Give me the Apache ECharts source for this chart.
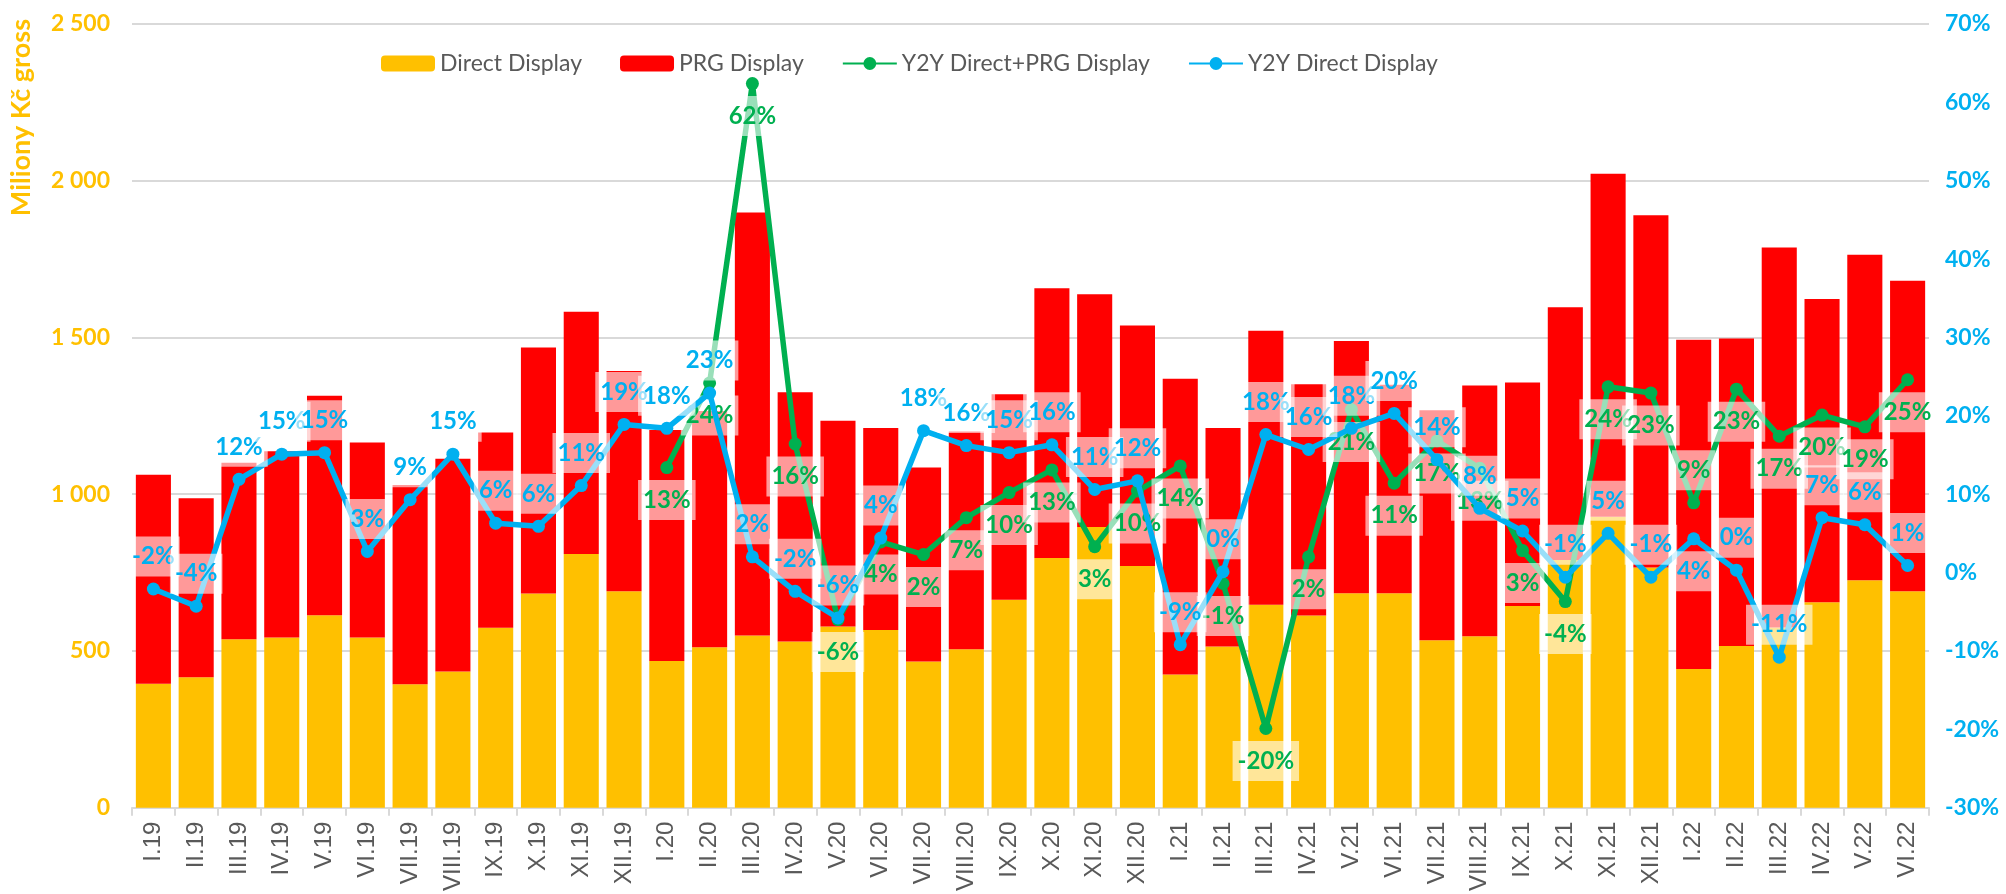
<!DOCTYPE html>
<html>
<head>
<meta charset="utf-8">
<script src="https://cdn.jsdelivr.net/npm/echarts@6/dist/echarts.min.js"></script>
<style>
  html, body { margin: 0; padding: 0; background: #fff; }
  #chart { width: 2006px; height: 894px; }
</style>
</head>
<body>
<div id="chart"></div>
<script>
const months = [
  'I.19', 'II.19', 'III.19', 'IV.19', 'V.19', 'VI.19', 'VII.19', 'VIII.19', 'IX.19', 'X.19', 'XI.19', 'XII.19',
  'I.20', 'II.20', 'III.20', 'IV.20', 'V.20', 'VI.20', 'VII.20', 'VIII.20', 'IX.20', 'X.20', 'XI.20', 'XII.20',
  'I.21', 'II.21', 'III.21', 'IV.21', 'V.21', 'VI.21', 'VII.21', 'VIII.21', 'IX.21', 'X.21', 'XI.21', 'XII.21',
  'I.22', 'II.22', 'III.22', 'IV.22', 'V.22', 'VI.22'
]

// Miliony Kč gross
const directDisplay = [
  395, 416, 537, 543, 614, 543, 394, 434, 574, 683, 809, 690,
  468, 512, 549, 530, 578, 567, 466, 505, 663, 796, 895, 771,
  425, 514, 647, 613, 684, 684, 534, 547, 643, 790, 928, 766,
  442, 516, 575, 655, 725, 690
]
const prgDisplay = [
  667, 571, 563, 594, 700, 622, 635, 679, 623, 785, 773, 703,
  737, 753, 1350, 795, 656, 644, 619, 695, 656, 861, 743, 767,
  943, 697, 874, 738, 805, 665, 734, 800, 713, 806, 1094, 1124,
  1051, 981, 1212, 968, 1039, 991
]

// Y2Y in %
const y2yDirectPrg = [
  null, null, null, null, null, null, null, null, null, null, null, null,
  13.4, 24.2, 62.4, 16.4, -6.0, 3.9, 2.3, 7.0, 10.2, 13.1, 3.3, 10.4,
  13.6, -1.4, -19.9, 2.0, 20.8, 11.4, 16.8, 13.3, 2.8, -3.7, 23.7, 22.9,
  8.9, 23.4, 17.4, 20.1, 18.6, 24.6
]
const y2yDirect = [
  -2.1, -4.3, 11.9, 15.1, 15.3, 2.7, 9.3, 15.1, 6.3, 5.9, 11.1, 18.9,
  18.4, 22.9, 2.0, -2.4, -5.8, 4.4, 18.1, 16.2, 15.3, 16.3, 10.6, 11.7,
  -9.2, 0.1, 17.6, 15.7, 18.4, 20.3, 14.4, 8.2, 5.3, -0.6, 5.0, -0.6,
  4.3, 0.3, -10.8, 7.0, 6.1, 0.9
]

const ORANGE = '#FFC000'
const RED = '#FF0000'
const GREEN = '#00B050'
const BLUE = '#00B0F0'
const GRAY = '#595959'

const pct = v => Math.round(v) + '%'
const thousands = v => String(v).replace(/\B(?=(\d{3})+(?!\d))/g, ' ')

// labels that sit on the other side of the point
const greenFlip = ['I.22']
const blueFlip = ['I.22']

const labelBox = (color) => ({
  show: true,
  color: color,
  fontFamily: 'Lato',
  fontWeight: 'bold',
  fontSize: 24,
  backgroundColor: 'rgba(255,255,255,0.6)',
  padding: [8, 5],
  distance: 6,
  formatter: p => pct(p.value)
})

const greenData = y2yDirectPrg.map((v, i) => ({
  value: v,
  label: { position: greenFlip.includes(months[i]) ? 'top' : 'bottom' }
}))
const blueData = y2yDirect.map((v, i) => ({
  value: v,
  label: { position: blueFlip.includes(months[i]) ? 'bottom' : 'top' }
}))

var chart = echarts.init(document.getElementById('chart'))

const option = {
  animation: false,
  backgroundColor: '#fff',
  grid: { left: 132, right: 77, top: 24, bottom: 84 },
  legend: {
    top: 47,
    left: 376,
    itemWidth: 54,
    itemHeight: 16,
    itemGap: 38,
    textStyle: { color: GRAY, fontSize: 23, fontFamily: 'Lato' },
    data: ['Direct Display', 'PRG Display', 'Y2Y Direct+PRG Display', 'Y2Y Direct Display']
  },
  graphic: [{
    type: 'text',
    left: 8,
    top: 19,
    rotation: Math.PI / 2,
    style: {
      text: 'Miliony Kč gross',
      fill: ORANGE,
      font: 'bold 27px Lato'
    }
  }],
  xAxis: {
    type: 'category',
    data: months,
    axisLine: { lineStyle: { color: '#D9D9D9', width: 2 } },
    axisTick: { show: true, length: 8, lineStyle: { color: '#D9D9D9', width: 2 } },
    axisLabel: {
      rotate: 90,
      color: GRAY,
      fontSize: 24,
      fontFamily: 'Liberation Sans',
      margin: 14,
      interval: 0
    }
  },
  yAxis: [
    {
      type: 'value',
      min: 0,
      max: 2500,
      interval: 500,
      axisLine: { show: false },
      axisTick: { show: false },
      splitLine: { lineStyle: { color: '#D9D9D9', width: 2 } },
      axisLabel: {
        color: ORANGE,
        fontWeight: 'bold',
        fontSize: 23,
        fontFamily: 'Lato',
        margin: 22,
        formatter: v => thousands(v)
      }
    },
    {
      type: 'value',
      min: -30,
      max: 70,
      interval: 10,
      axisLine: { show: false },
      axisTick: { show: false },
      splitLine: { show: false },
      axisLabel: {
        color: BLUE,
        fontWeight: 'bold',
        fontSize: 23,
        fontFamily: 'Lato',
        margin: 16,
        formatter: v => v + '%'
      }
    }
  ],
  series: [
    {
      name: 'Direct Display',
      type: 'bar',
      stack: 'total',
      barCategoryGap: '18%',
      itemStyle: { color: ORANGE },
      data: directDisplay
    },
    {
      name: 'PRG Display',
      type: 'bar',
      stack: 'total',
      barCategoryGap: '18%',
      itemStyle: { color: RED },
      data: prgDisplay
    },
    {
      name: 'Y2Y Direct+PRG Display',
      type: 'line',
      yAxisIndex: 1,
      symbol: 'circle',
      symbolSize: 13,
      connectNulls: false,
      lineStyle: { color: GREEN, width: 5.5 },
      itemStyle: { color: GREEN },
      label: labelBox(GREEN),
      data: greenData,
      z: 3
    },
    {
      name: 'Y2Y Direct Display',
      type: 'line',
      yAxisIndex: 1,
      symbol: 'circle',
      symbolSize: 13,
      lineStyle: { color: BLUE, width: 5.5 },
      itemStyle: { color: BLUE },
      label: labelBox(BLUE),
      data: blueData,
      z: 4
    }
  ]
}

option && chart.setOption(option)
</script>
</body>
</html>
